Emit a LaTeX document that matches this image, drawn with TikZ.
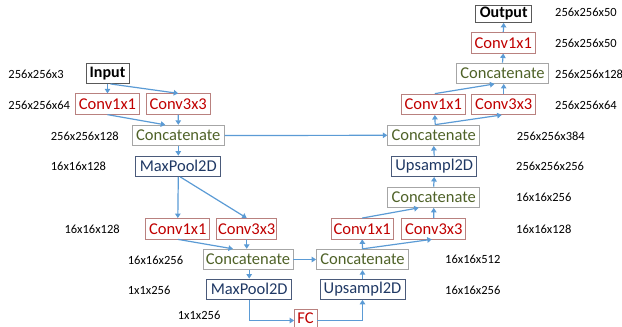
\documentclass[tikz,border=0pt]{standalone}
\usepackage{fontspec}
\setmainfont{Carlito}
\usetikzlibrary{arrows.meta,calc}
\definecolor{arr}{HTML}{5B9BD5}
\definecolor{redt}{HTML}{C00000}
\definecolor{redb}{HTML}{B9817F}
\definecolor{greent}{HTML}{4F6228}
\definecolor{greyb}{HTML}{A6A6A6}
\definecolor{navyt}{HTML}{1F3864}
\definecolor{navyb}{HTML}{4A5A7A}
\definecolor{darkb}{HTML}{595959}
\tikzset{
  box/.style={draw, line width=0.8pt, minimum height=20.5pt, inner xsep=1pt, inner ysep=0pt, font=\fontsize{16.5}{18}\selectfont},
  convbox/.style={box, draw=redb, text=redt, minimum width=64pt},
  catbox/.style={box, draw=greyb, text=greent, minimum width=92pt},
  poolbox/.style={box, draw=navyb, text=navyt, minimum width=85pt},
  iobox/.style={box, draw=darkb, text=black, font=\fontsize{16}{18}\selectfont\bfseries},
  fcbox/.style={box, draw=none, text=redt, minimum width=22pt},
  lbl/.style={anchor=west, inner sep=0pt, font=\fontsize{12.5}{14}\selectfont},
  conn/.style={draw=arr, line width=1.2pt, -{Triangle[length=4.5pt,width=5.5pt]}}
}
\begin{document}
\begin{tikzpicture}[x=1pt,y=-1pt]
\useasboundingbox (0,0) rectangle (622,327);
\clip (0,0) rectangle (622,327);
% left encoder
\node[iobox, minimum width=43pt] (in) at (107.5,73.3) {Input};
\node[convbox] (c1a) at (107.5,104) {Conv1x1};
\node[convbox] (c3a) at (178.2,104) {Conv3x3};
\node[catbox] (cat1) at (178.3,135.5) {Concatenate};
\node[poolbox] (mp1) at (178.3,166.3) {MaxPool2D};
\node[convbox] (c1b) at (177.8,228.7) {Conv1x1};
\node[convbox, minimum width=60pt] (c3b) at (246.7,228.7) {Conv3x3};
\node[catbox, minimum width=90pt] (cat2) at (248,259.5) {Concatenate};
\node[poolbox] (mp2) at (249.2,289.2) {MaxPool2D};
\node[fcbox, minimum height=16pt] (fc) at (305.5,318.2) {FC};
\draw[redb, line width=0.8pt] ($(fc.south west)+(0,6)$) |- (fc.north east) -- ($(fc.south east)+(0,6)$);
% right decoder
\node[poolbox] (up1) at (362.5,289.2) {Upsampl2D};
\node[catbox] (cat3) at (362.5,259.5) {Concatenate};
\node[convbox, minimum width=62pt] (c1c) at (362.2,228.7) {Conv1x1};
\node[convbox] (c3c) at (433.8,228.7) {Conv3x3};
\node[catbox] (cat4) at (433.7,197.2) {Concatenate};
\node[poolbox] (up2) at (434.2,166.3) {Upsampl2D};
\node[catbox] (cat5) at (433.7,135.3) {Concatenate};
\node[convbox] (c1d) at (433.3,104.3) {Conv1x1};
\node[convbox] (c3d) at (503.7,104.3) {Conv3x3};
\node[catbox] (cat6) at (502.5,73.3) {Concatenate};
\node[convbox] (c1e) at (503.3,42.8) {Conv1x1};
\node[iobox, minimum width=56pt, minimum height=17pt] (out) at (503.7,14) {Output};
% labels
\node[lbl] (l1) at (8.3,74) {256x256x3};
\node[lbl] (l2) at (8.3,105) {256x256x64};
\node[lbl] (l3) at (50.7,136) {256x256x128};
\node[lbl] (l4) at (50.7,166.7) {16x16x128};
\node[lbl] (l5) at (64.3,229) {16x16x128};
\node[lbl] (l6) at (127.7,260) {16x16x256};
\node[lbl] (l7) at (127.7,290) {1x1x256};
\node[lbl] (l8) at (177.7,315) {1x1x256};
\node[lbl] (l9) at (445,259.3) {16x16x512};
\node[lbl] (l10) at (445,290) {16x16x256};
\node[lbl] (l11) at (516,229) {16x16x128};
\node[lbl] (l12) at (516,197.7) {16x16x256};
\node[lbl] (l13) at (516,166.7) {256x256x256};
\node[lbl] (l14) at (516.7,136.7) {256x256x384};
\node[lbl] (l15) at (555,105) {256x256x64};
\node[lbl] (l16) at (555,74) {256x256x128};
\node[lbl] (l17) at (555,43.3) {256x256x50};
\node[lbl] (l18) at (555,12.3) {256x256x50};
% connectors encoder
\draw[conn] (in.south) -- (c1a.north);
\draw[conn] ($(in.south)+(3,0)$) -- (c3a.north);
\draw[conn] (c1a.south) -- ($(cat1.north)+(-13,0)$);
\draw[conn] (c3a.south) -- (cat1.north);
\draw[conn] (cat1.south) -- (mp1.south |- mp1.north);
\draw[conn] (mp1.south) -- (c1b.north);
\draw[conn] ($(mp1.south)+(2,0)$) -- (c3b.north);
\draw[conn] (c1b.south) -- ($(cat2.north)+(-15,0)$);
\draw[conn] (c3b.south) -- (c3b.south |- cat2.north);
\draw[conn] (mp2.north |- cat2.south) -- (mp2.north);
\draw[conn] (mp2.south) |- (fc.west |- 0,320.5);
\draw[conn] (fc.east |- 0,320.5) -| (up1.south);
% decoder
\draw[conn] (up1.north) -- (cat3.south);
\draw[conn] (cat2.east) -- (cat3.west);
\draw[conn] (cat3.north) -- (c1c.south);
\draw[conn] (cat3.north) -- ($(c3c.south)+(-2,0)$);
\draw[conn] (c1c.north) -- ($(cat4.south)+(-15,0)$);
\draw[conn] (c3c.north) -- (cat4.south);
\draw[conn] (cat4.north) -- (up2.south);
\draw[conn] (up2.north) -- (cat5.south);
\draw[conn] (cat1.east) -- (cat5.west);
\draw[conn] ($(cat5.north)+(1.5,0)$) -- ($(c1d.south)+(1.5,0)$);
\draw[conn] ($(cat5.north)+(1.5,0)$) -- ($(c3d.south)+(-2,0)$);
\draw[conn] ($(c1d.north)+(1.5,0)$) -- ($(cat6.south)+(-8,0)$);
\draw[conn] (c3d.north) -- (c3d.north |- cat6.south);
\draw[conn] (cat6.north) -- (c1e.south);
\draw[conn] (c1e.north) -- (out.south);
\end{tikzpicture}
\end{document}
